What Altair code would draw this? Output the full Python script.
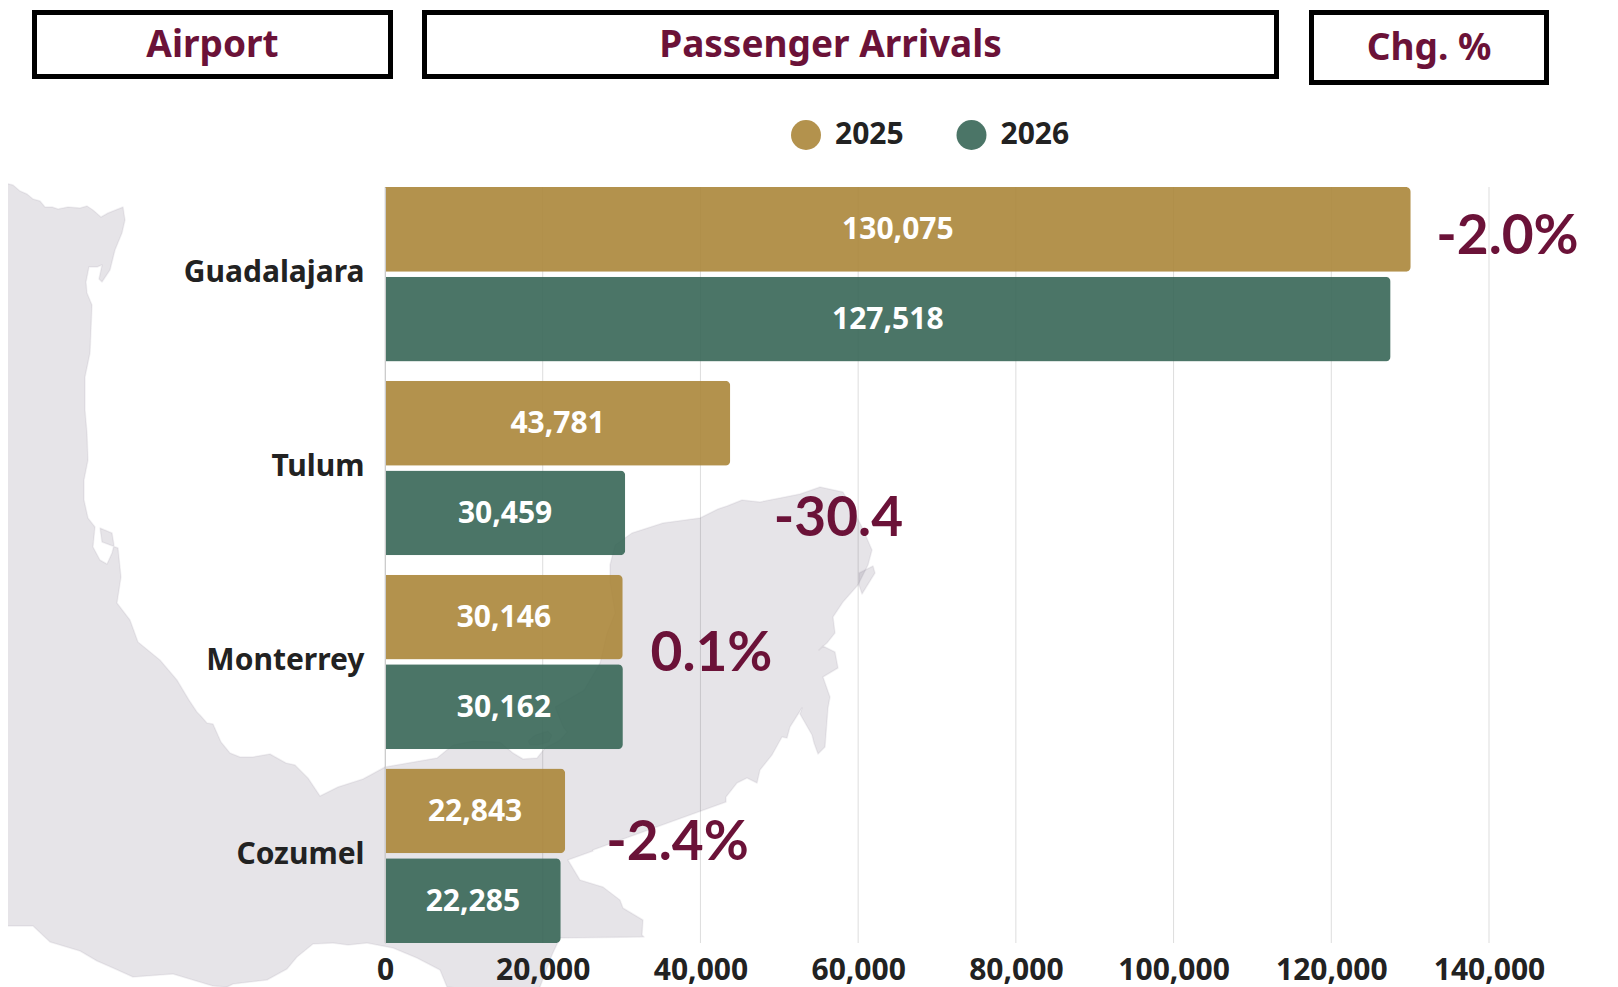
import altair as alt

airports = ["Guadalajara", "Tulum", "Monterrey", "Cozumel"]
years = ["2025", "2026"]
values_2025 = [130075, 43781, 30146, 22843]
values_2026 = [127518, 30459, 30162, 22285]
changes = ["-2.0%", "-30.4", "0.1%", "-2.4%"]
x_ticks = [0, 20000, 40000, 60000, 80000, 100000, 120000, 140000]
headers = ["Airport", "Passenger Arrivals", "Chg. %"]

# outline of the background map (page pixels)
map_x = [0,13,20,27,33,40,45,52,58,68,80,87,93,101,108,123,125,122,115,110,102,99,102,97,89,86,87,92,91,90,85,85,87,88,84,84,88,95,93,100,107,112,114,112,100,102,118,121,117,130,138,160,177,189,197,200,207,213,221,230,240,253,270,286,295,308,320,338,363,385,437,453,473,500,513,523,537,545,560,567,563,555,584,600,607,615,610,610,615,632,663,700,718,727,742,760,780,800,820,843,852,862,872,868,858,843,833,835,827,819,823,835,838,823,830,828,825,818,814,812,800,802,790,787,782,772,760,757,747,737,726,726,593,593,568,580,603,620,623,643,642,644,560,552,540,522,522,447,440,417,393,367,348,333,313,297,287,267,233,227,213,173,133,113,97,80,50,33,0,0]
map_y = [182,185,191,194,199,201,207,207,209,207,208,206,210,217,213,207,220,233,250,270,282,279,265,267,267,282,293,305,330,353,377,410,433,460,480,500,518,527,547,560,564,553,545,533,528,542,548,577,603,620,642,660,680,700,712,715,723,724,742,753,757,757,754,763,765,778,796,787,779,767,758,745,741,742,753,759,758,748,740,732,727,707,690,663,633,613,583,565,545,533,523,518,509,506,500,502,498,494,487,492,508,527,550,565,585,602,617,633,643,650,646,652,668,677,697,708,747,754,743,735,714,708,727,738,737,755,770,783,778,783,797,802,850,851,860,880,887,900,908,920,935,937,938,955,987,995,995,987,970,958,948,943,945,943,944,957,969,980,984,987,986,974,977,968,961,951,942,926,926,182]
island_x = [859, 873, 875, 862, 859]
island_y = [573, 566, 573, 594, 585]
lagoon_x = [528, 535, 548, 552, 549, 538, 530]
lagoon_y = [741, 735, 731, 735, 742, 745, 745]

GOLD, GREEN = "#ab863a", "#376656"
WINE, INK = "#6b1238", "#222222"
FONT = "Noto Sans"
LEFT, TOP, W, H = 385, 187, 1104, 756


def ring(xs, ys):
    pts = [[x, y] for x, y in zip(xs, ys)]
    return pts if pts[0] == pts[-1] else pts + [pts[0]]


rows = []
for i, a in enumerate(airports):
    for y, vals in zip(years, (values_2025, values_2026)):
        rows.append({"airport": a, "year": y, "value": vals[i], "mid": vals[i] / 2})
source = alt.Data(values=rows)

xs = alt.Scale(domain=[0, 140000], nice=False, range=[0, W])
ys = alt.Scale(domain=airports, paddingInner=0.1, paddingOuter=0, range=[0, H])
yo = alt.Scale(domain=years, paddingInner=0.054, paddingOuter=0)

x_axis = alt.Axis(
    values=x_ticks, labelExpr="format(datum.value, ',')", grid=False, domain=False,
    ticks=False, title=None,
    labelFont=FONT, labelFontSize=30, labelFontWeight=700, labelColor=INK,
    labelPadding=12, labelFlush=False, labelOverlap=False, zindex=1,
)
y_axis = alt.Axis(
    ticks=False, domain=True, domainColor="#cccccc", domainWidth=1, grid=False, title=None,
    labelFont=FONT, labelFontSize=30, labelFontWeight=700, labelColor=INK,
    labelPadding=21, labelOffset=-1, labelLimit=400, zindex=1,
)


def X(field):
    return alt.X(field, scale=xs, axis=x_axis)


def Y():
    return alt.Y("airport:N", sort=airports, scale=ys, axis=y_axis)


grid = alt.Chart(alt.Data(values=[{"t": t} for t in x_ticks])).mark_rule(
    color="#dddddd", strokeWidth=1
).encode(x=X("t:Q"))

bars = alt.Chart(source).mark_bar(
    cornerRadiusTopRight=5, cornerRadiusBottomRight=5, opacity=0.9
).encode(
    x=X("value:Q"),
    y=Y(),
    yOffset=alt.YOffset("year:N", scale=yo),
    color=alt.Color(
        "year:N", scale=alt.Scale(domain=years, range=[GOLD, GREEN]),
        legend=alt.Legend(
            orient="none", legendX=406, legendY=-67, direction="horizontal", columns=2,
            title=None, symbolType="circle", symbolSize=900, symbolStrokeWidth=0,
            symbolOpacity=0.9, labelFont=FONT, labelFontSize=30, labelFontWeight=700,
            labelColor=INK, labelOffset=14, columnPadding=52.5, padding=0,
        ),
    ),
)
bar_text = alt.Chart(source).mark_text(
    font=FONT, fontSize=30, fontWeight=700, color="white", baseline="middle", dy=1
).encode(
    x=X("mid:Q"),
    y=Y(),
    yOffset=alt.YOffset("year:N", scale=yo),
    text=alt.Text("value:Q", format=","),
)

features = [
    {"type": "Feature", "geometry": {"type": "Polygon", "coordinates": [ring(map_x, map_y)]}},
    {"type": "Feature", "geometry": {"type": "Polygon", "coordinates": [ring(island_x, island_y)]}},
    {"type": "Feature", "geometry": {"type": "Polygon", "coordinates": [ring(lagoon_x, lagoon_y)]}},
]
land = alt.Chart(alt.Data(values=features)).mark_geoshape(
    fill="#5a4a68", fillOpacity=0.15, stroke="#5a4a68", strokeOpacity=0.08, strokeWidth=1.5,
    strokeJoin="round", clip=False
).project(type="identity", scale=1, translate=[-LEFT, -TOP])

# change labels: nudged from the longer bar of each airport
nudges = [(96.7, -37), (108.2, 51), (88.6, -8), (112.4, -13)]
chg_layers = []
for i, (dx, dy) in enumerate(nudges):
    peak = max(values_2025[i], values_2026[i])
    chg_layers.append(
        alt.Chart(alt.Data(values=[{"airport": airports[i], "peak": peak, "label": changes[i]}]))
        .mark_text(font="Lato", fontSize=55, fontWeight=700, color=WINE,
                   align="center", baseline="middle", dx=dx, dy=dy)
        .encode(x=X("peak:Q"), y=Y(), text="label:N")
    )

# header boxes, in page pixels: left, right, top, bottom of the stroke's centre line, text centre
boxes = [(34.5, 390.5, 12.5, 76.5, 212.5, 45.5), (424.5, 1276.5, 12.5, 76.5, 830.5, 45.5), (1311.5, 1546.5, 12.5, 82.5, 1429, 48.5)]
head_layers = []
for label, (x0, x1, y0, y1, cx, cy) in zip(headers, boxes):
    d = alt.Data(values=[{"label": label}])
    head_layers.append(
        alt.Chart(d).mark_rect(fill="white", stroke="black", strokeWidth=5).encode(
            x=alt.value(x0 - LEFT), x2=alt.value(x1 - LEFT),
            y=alt.value(y0 - TOP), y2=alt.value(y1 - TOP),
        )
    )
    head_layers.append(
        alt.Chart(d).mark_text(font=FONT, fontSize=37, fontWeight=700, color=WINE,
                               baseline="middle", align="center").encode(
            x=alt.value(cx - LEFT), y=alt.value(cy - TOP), text="label:N",
        )
    )

chart = alt.layer(grid, land, bars, bar_text, *chg_layers, *head_layers).properties(
    width=W, height=H,
    padding={"left": LEFT - 8, "top": TOP - 8, "right": 121, "bottom": 44},
    autosize=alt.AutoSizeParams(type="none"),
    background="white",
).configure_view(stroke=None)

chart.save("out.html", embed_options={"renderer": "svg", "actions": False})
